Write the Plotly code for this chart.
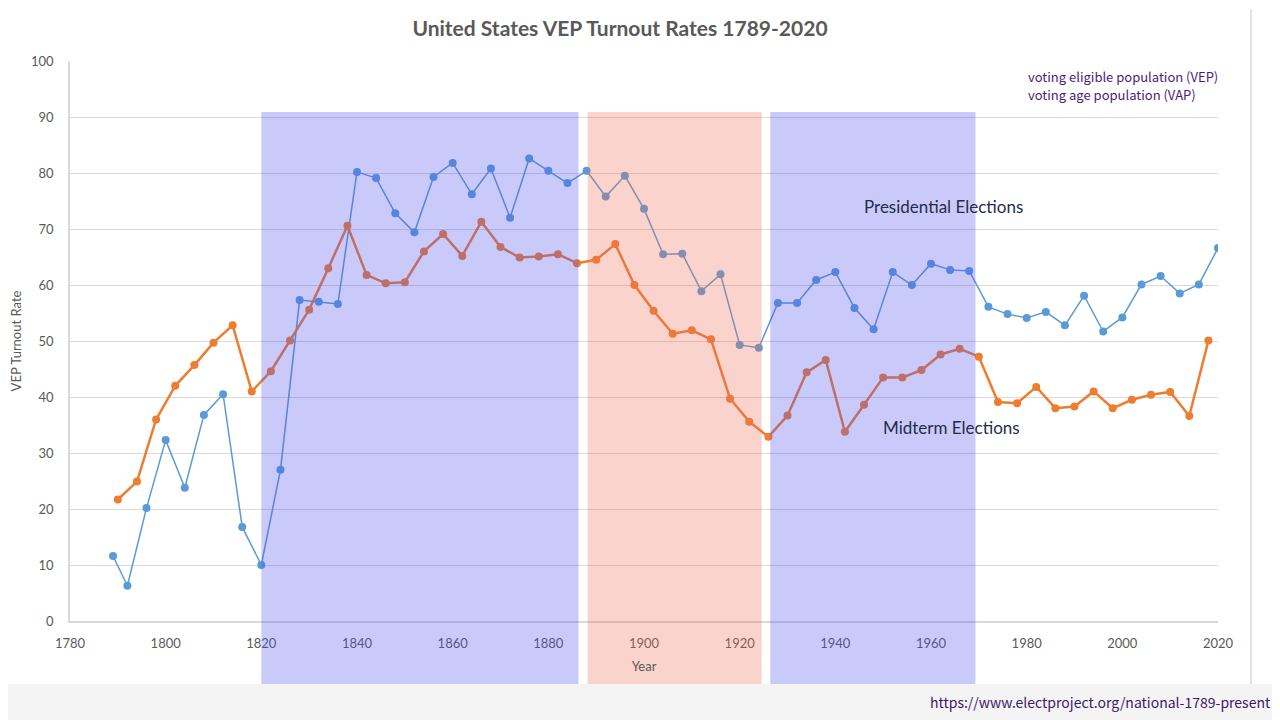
import plotly.graph_objects as go

# Presidential elections (VEP turnout %)
pres_years = list(range(1789, 1790)) + list(range(1792, 2021, 4))
pres_vals = [11.6, 6.3, 20.2, 32.3, 23.8, 36.8, 40.5, 16.8, 10.0, 27.0,
             57.3, 57.0, 56.6, 80.2, 79.1, 72.8, 69.4, 79.3, 81.8, 76.2,
             80.8, 72.0, 82.6, 80.4, 78.2, 80.4, 75.8, 79.5, 73.6, 65.5,
             65.6, 58.9, 61.9, 49.3, 48.8, 56.8, 56.8, 60.9, 62.3, 55.9,
             52.1, 62.3, 60.0, 63.8, 62.7, 62.5, 56.1, 54.8, 54.1, 55.2,
             52.8, 58.1, 51.7, 54.2, 60.1, 61.6, 58.5, 60.1, 66.6]

# Midterm elections (VEP turnout %)
mid_years = list(range(1790, 2019, 4))
mid_vals = [21.7, 24.9, 36.0, 42.0, 45.7, 49.7, 52.8, 41.0, 44.6, 50.1,
            55.6, 63.0, 70.6, 61.8, 60.3, 60.5, 66.0, 69.1, 65.2, 71.3,
            66.8, 64.9, 65.1, 65.5, 63.9, 64.5, 67.3, 60.0, 55.4, 51.3,
            51.9, 50.3, 39.7, 35.6, 32.9, 36.7, 44.4, 46.6, 33.8, 38.6,
            43.5, 43.5, 44.8, 47.6, 48.6, 47.2, 39.1, 38.9, 41.8, 38.0,
            38.3, 41.0, 38.0, 39.5, 40.4, 40.9, 36.6, 50.1]

# Shaded periods (years)
period_starts = [1820, 1888.2, 1926.4]
period_ends = [1886.3, 1924.6, 1969.3]
period_colors = ["rgba(80,80,240,0.3)", "rgba(240,110,90,0.3)", "rgba(80,80,240,0.3)"]

x_ticks = list(range(1780, 2021, 20))
y_ticks = list(range(0, 101, 10))

note_lines = ["voting eligible population (VEP)", "voting age population (VAP)"]

W, H = 1272, 712  # page has an 8px body margin
PW, PH = 1148, 560  # plot area size

fig = go.Figure()
fig.add_trace(go.Scatter(
    x=pres_years, y=pres_vals, mode="lines+markers", name="Presidential",
    line=dict(color="#5B9BD5", width=1.5),
    marker=dict(color="#5B9BD5", size=8)))
fig.add_trace(go.Scatter(
    x=mid_years, y=mid_vals, mode="lines+markers", name="Midterm",
    line=dict(color="#ED7D31", width=2.5),
    marker=dict(color="#ED7D31", size=8)))

# page background elements
fig.add_shape(type="rect", xref="paper", yref="paper",
              x0=-70/PW, x1=1210/PW, y0=-99/PH, y1=-63/PH,
              fillcolor="#f4f4f4", line=dict(width=0), layer="below")
fig.add_shape(type="line", xref="paper", yref="paper",
              x0=1181/PW, x1=1181/PW, y0=-63/PH, y1=1+52/PH,
              line=dict(color="#e2e2e2", width=2), layer="below")

for s, e, c in zip(period_starts, period_ends, period_colors):
    fig.add_shape(type="rect", xref="x", yref="paper", x0=s, x1=e,
                  y0=-63/PH, y1=509/PH, fillcolor=c,
                  line=dict(width=0), layer="above")

fig.add_annotation(text="Presidential Elections", xref="x", yref="y",
                   x=1945.6, y=74.1, xanchor="left", yanchor="middle",
                   showarrow=False,
                   font=dict(family="Lato", size=17, color="#1f2d4d"))
fig.add_annotation(text="Midterm Elections", xref="x", yref="y",
                   x=1949.6, y=34.5, xanchor="left", yanchor="middle",
                   showarrow=False,
                   font=dict(family="Lato", size=17, color="#1f2d4d"))
for i, line in enumerate(note_lines):
    fig.add_annotation(text=line, xref="paper", yref="paper",
                       x=(1026-70)/PW, y=(621-76-18*i)/PH,
                       xanchor="left", yanchor="middle", showarrow=False,
                       font=dict(family="Noto Sans CJK KR", size=13, color="#4b1c80"))
fig.add_annotation(text="https://www.electproject.org/national-1789-present",
                   xref="paper", yref="paper", x=(1273-70)/PW, y=(621-702)/PH,
                   xanchor="right", yanchor="middle", showarrow=False,
                   font=dict(family="Noto Sans CJK KR", size=14, color="#3a1a6a"))

fig.update_layout(
    width=W, height=H,
    margin=dict(l=62, r=W - 62 - PW, t=53, b=H - 53 - PH, autoexpand=False),
    paper_bgcolor="white", plot_bgcolor="white",
    showlegend=False,
    title=dict(text="<b>United States VEP Turnout Rates 1789-2020</b>",
               x=(620-8)/W, xref="container", xanchor="center",
               y=1-(29-8)/H, yref="container", yanchor="middle",
               font=dict(family="Lato", size=21, color="#595959")),
    font=dict(family="Lato", size=13, color="#595959"),
    xaxis=dict(range=[1780, 2020], tickvals=x_ticks, showgrid=False,
               showline=True, linecolor="#d9d9d9", linewidth=1.5,
               zeroline=False, ticks="", ticklen=0, ticklabelstandoff=10,
               automargin=False,
               title=dict(text="Year", standoff=12,
                          font=dict(size=13, color="#595959"))),
    yaxis=dict(range=[0, 100], tickvals=y_ticks, showgrid=True,
               gridcolor="#d9d9d9", gridwidth=1,
               showline=True, linecolor="#d9d9d9", linewidth=1.5,
               zeroline=False, ticks="", ticklen=0, ticklabelstandoff=12,
               automargin=False,
               title=dict(text="VEP Turnout Rate", standoff=13,
                          font=dict(size=13, color="#595959"))),
)

fig.write_html("out.html")
